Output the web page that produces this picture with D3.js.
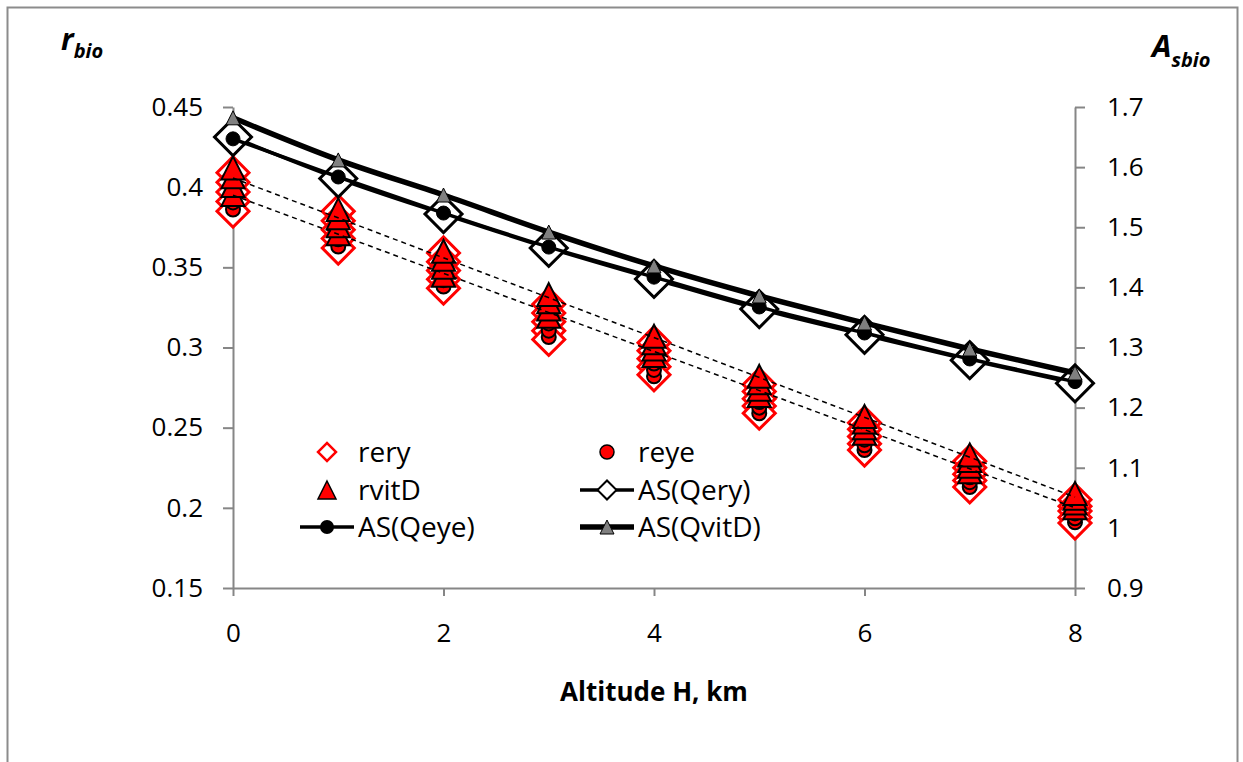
<!DOCTYPE html>
<html lang="en">
<head>
<meta charset="UTF-8">
<title>r_bio and A_sbio vs altitude</title>
<style>
  body { margin: 0; background: #fff; }
  text { font-family: "Open Sans", "Noto Sans", sans-serif; fill: #000; }
</style>
</head>
<body>
<svg width="1243" height="762"></svg>
<script src="https://d3js.org/d3.v7.min.js"></script>
<script>
// altitudes, km
let altitudes = [0, 1, 2, 3, 4, 5, 6, 7, 8];

// r_bio values, five cases per altitude (left axis)
let rery = [
    [0.409, 0.403, 0.397, 0.391, 0.385],
    [0.385, 0.379, 0.3735, 0.368, 0.362],
    [0.359, 0.3535, 0.348, 0.3425, 0.337],
    [0.327, 0.3215, 0.316, 0.3105, 0.305],
    [0.303, 0.298, 0.293, 0.288, 0.283],
    [0.277, 0.2725, 0.268, 0.2635, 0.259],
    [0.253, 0.249, 0.2445, 0.240, 0.236],
    [0.229, 0.225, 0.221, 0.217, 0.213],
    [0.205, 0.201, 0.198, 0.194, 0.1905]
];
let reye = [
    [0.405, 0.400, 0.395, 0.3905, 0.386],
    [0.381, 0.3765, 0.372, 0.3675, 0.363],
    [0.355, 0.351, 0.3465, 0.342, 0.338],
    [0.323, 0.319, 0.315, 0.3105, 0.3065],
    [0.298, 0.294, 0.290, 0.286, 0.282],
    [0.273, 0.2695, 0.266, 0.2625, 0.259],
    [0.249, 0.2455, 0.2425, 0.239, 0.236],
    [0.225, 0.222, 0.219, 0.216, 0.213],
    [0.202, 0.199, 0.1965, 0.1935, 0.191]
];
let rvitD = [
    [0.412, 0.4065, 0.401, 0.3955],
    [0.386, 0.381, 0.376, 0.371],
    [0.360, 0.355, 0.350, 0.345],
    [0.333, 0.3285, 0.324, 0.3195],
    [0.307, 0.303, 0.299, 0.295],
    [0.282, 0.278, 0.274, 0.270],
    [0.257, 0.2535, 0.250, 0.2465],
    [0.233, 0.2295, 0.226, 0.2225],
    [0.209, 0.206, 0.203, 0.200]
];

// dashed trend lines (values at H = 0 and H = 8)
let trendX = [0, 8];
let trendUpper = [0.4057, 0.2067];
let trendLower = [0.395, 0.200];

// A_sbio values (right axis)
let asQery = [1.650, 1.581, 1.522, 1.4655, 1.414, 1.364, 1.321, 1.279, 1.2404];
let asQeye = [1.647, 1.5836, 1.5236, 1.467, 1.417, 1.3674, 1.3241, 1.2809, 1.2432];
let asQvitD = [1.682, 1.612, 1.5536, 1.492, 1.4356, 1.3857, 1.3408, 1.2975, 1.2576];

let xTicks = [0, 2, 4, 6, 8];
let leftTicks = [0.15, 0.2, 0.25, 0.3, 0.35, 0.4, 0.45];
let rightTicks = [0.9, 1, 1.1, 1.2, 1.3, 1.4, 1.5, 1.6, 1.7];


let svg = d3.select("svg"),
    plot = { left: 233, right: 1075, top: 107, bottom: 588 },
    axisColor = "#868686",
    fontSize = 26,
    legendSize = 28;

let x = d3.scaleLinear().domain([0, 8]).range([plot.left, plot.right]);
let yL = d3.scaleLinear().domain([0.15, 0.45]).range([plot.bottom, plot.top]);
let yR = d3.scaleLinear().domain([0.9, 1.7]).range([plot.bottom, plot.top]);

// chart frame
svg.append("rect")
    .attr("x", 7.5).attr("y", 7.5)
    .attr("width", 1230).attr("height", 780)
    .attr("fill", "none")
    .attr("stroke", "#8c8c8c")
    .attr("stroke-width", 2);

// axes
let gx = svg.append("g")
    .attr("transform", "translate(0," + plot.bottom + ")")
    .call(d3.axisBottom(x).tickValues(xTicks).tickSize(8).tickPadding(28).tickSizeOuter(0));
let gl = svg.append("g")
    .attr("transform", "translate(" + plot.left + ",0)")
    .call(d3.axisLeft(yL).tickValues(leftTicks).tickSize(10).tickPadding(20).tickFormat(d3.format("~g")).tickSizeOuter(0));
let gr = svg.append("g")
    .attr("transform", "translate(" + plot.right + ",0)")
    .call(d3.axisRight(yR).tickValues(rightTicks).tickSize(10).tickPadding(22).tickFormat(d3.format("~g")).tickSizeOuter(0));

[gx, gl, gr].forEach(g => {
    g.attr("font-family", null).attr("font-size", null);
    g.selectAll(".domain").attr("stroke", axisColor).attr("stroke-width", 2);
    g.selectAll(".tick line").attr("stroke", axisColor).attr("stroke-width", 2);
    g.selectAll(".tick text").style("font-size", fontSize + "px").attr("fill", "#000");
});

// marker helpers: Excel-like shapes, size given as box width
let boxTriangle = {
    draw(context, size) {
        let h = Math.sqrt(size) / 2;
        context.moveTo(0, -h);
        context.lineTo(h, h);
        context.lineTo(-h, h);
        context.closePath();
    }
};
function diamond(w) { return d3.symbol().type(d3.symbolSquare).size(w * w / 2)(); }
function circle(d) { return d3.symbol().type(d3.symbolCircle).size(Math.PI * d * d / 4)(); }
function triangle(w) { return d3.symbol().type(boxTriangle).size(w * w)(); }

function flat(arr) {
    let out = [];
    arr.forEach((vals, i) => vals.forEach(v => out.push({ h: altitudes[i], v: v })));
    // lowest values drawn first
    return out.sort((a, b) => a.v - b.v);
}

// red scatter series
svg.append("g").selectAll("path")
    .data(flat(rery).reverse()).join("path")
    .attr("d", diamond(32))
    .attr("transform", d => "translate(" + x(d.h) + "," + yL(d.v) + ") rotate(45)")
    .attr("fill", "#fff").attr("stroke", "#ff0000").attr("stroke-width", 3);

svg.append("g").selectAll("path")
    .data(flat(reye)).join("path")
    .attr("d", circle(14))
    .attr("transform", d => "translate(" + x(d.h) + "," + yL(d.v) + ")")
    .attr("fill", "#ff0000").attr("stroke", "#000").attr("stroke-width", 2);

svg.append("g").selectAll("path")
    .data(flat(rvitD)).join("path")
    .attr("d", triangle(23))
    .attr("transform", d => "translate(" + x(d.h) + "," + yL(d.v) + ")")
    .attr("fill", "#ff0000").attr("stroke", "#000").attr("stroke-width", 2)
    .attr("stroke-linejoin", "miter");

// dashed trend lines
[trendUpper, trendLower].forEach(t => {
    svg.append("path")
        .datum(trendX.map((h, i) => [h, t[i]]))
        .attr("fill", "none")
        .attr("stroke", "#000")
        .attr("stroke-width", 1.5)
        .attr("stroke-dasharray", "5,4")
        .attr("d", d3.line().x(d => x(d[0])).y(d => yL(d[1])));
});

// A_sbio series
let asLine = d3.line().curve(d3.curveMonotoneX).x((d, i) => x(altitudes[i])).y(d => yR(d));

svg.append("path").datum(asQery)
    .attr("fill", "none").attr("stroke", "#000").attr("stroke-width", 3.5).attr("d", asLine);
svg.append("g").selectAll("path")
    .data(asQery).join("path")
    .attr("d", diamond(37))
    .attr("transform", (d, i) => "translate(" + x(altitudes[i]) + "," + yR(d) + ") rotate(45)")
    .attr("fill", "#fff").attr("stroke", "#000").attr("stroke-width", 3);

svg.append("path").datum(asQeye)
    .attr("fill", "none").attr("stroke", "#000").attr("stroke-width", 3.5).attr("d", asLine);
svg.append("g").selectAll("path")
    .data(asQeye).join("path")
    .attr("d", circle(14))
    .attr("transform", (d, i) => "translate(" + x(altitudes[i]) + "," + yR(d) + ")")
    .attr("fill", "#000").attr("stroke", "#000").attr("stroke-width", 1);

svg.append("path").datum(asQvitD)
    .attr("fill", "none").attr("stroke", "#000").attr("stroke-width", 5.5).attr("d", asLine);
svg.append("g").selectAll("path")
    .data(asQvitD).join("path")
    .attr("d", triangle(14))
    .attr("transform", (d, i) => "translate(" + x(altitudes[i]) + "," + yR(d) + ")")
    .attr("fill", "#808080").attr("stroke", "#000").attr("stroke-width", 1);

// legend
let legend = svg.append("g");
let legendItems = [
    { name: "rery", col: 0, row: 0, marker: "rdiamond" },
    { name: "reye", col: 1, row: 0, marker: "rcircle" },
    { name: "rvitD", col: 0, row: 1, marker: "rtriangle" },
    { name: "AS(Qery)", col: 1, row: 1, marker: "kdiamond", line: 3.5 },
    { name: "AS(Qeye)", col: 0, row: 2, marker: "kcircle", line: 3.5 },
    { name: "AS(QvitD)", col: 1, row: 2, marker: "gtriangle", line: 5.5 }
];
let colX = [327, 607], rowY = [452, 490, 527];

legendItems.forEach(it => {
    let cx = colX[it.col], cy = rowY[it.row];
    if (it.line) {
        legend.append("line")
            .attr("x1", cx - 27).attr("x2", cx + 27)
            .attr("y1", cy).attr("y2", cy)
            .attr("stroke", "#000").attr("stroke-width", it.line);
    }
    let m = legend.append("path");
    if (it.marker == "rdiamond") {
        m.attr("d", diamond(18)).attr("transform", "translate(" + cx + "," + cy + ") rotate(45)")
            .attr("fill", "#fff").attr("stroke", "#ff0000").attr("stroke-width", 2.5);
    } else if (it.marker == "rcircle") {
        m.attr("d", circle(14)).attr("transform", "translate(" + cx + "," + cy + ")")
            .attr("fill", "#ff0000").attr("stroke", "#000").attr("stroke-width", 1.5);
    } else if (it.marker == "rtriangle") {
        m.attr("d", triangle(18)).attr("transform", "translate(" + cx + "," + cy + ")")
            .attr("fill", "#ff0000").attr("stroke", "#000").attr("stroke-width", 1.5);
    } else if (it.marker == "kdiamond") {
        m.attr("d", diamond(19)).attr("transform", "translate(" + cx + "," + cy + ") rotate(45)")
            .attr("fill", "#fff").attr("stroke", "#000").attr("stroke-width", 2);
    } else if (it.marker == "kcircle") {
        m.attr("d", circle(14)).attr("transform", "translate(" + cx + "," + cy + ")")
            .attr("fill", "#000");
    } else {
        m.attr("d", triangle(14)).attr("transform", "translate(" + cx + "," + cy + ")")
            .attr("fill", "#808080").attr("stroke", "#000").attr("stroke-width", 1);
    }
    legend.append("text")
        .attr("x", cx + 31).attr("y", cy).attr("dy", "0.36em")
        .style("font-size", legendSize + "px")
        .text(it.name);
});

// axis titles
svg.append("text")
    .attr("x", 654).attr("y", 701)
    .attr("text-anchor", "middle")
    .style("font-size", "26px").style("font-weight", "bold")
    .text("Altitude H, km");

let tl = svg.append("text").attr("x", 61).attr("y", 50)
    .style("font-weight", "bold").style("font-style", "italic");
tl.append("tspan").style("font-size", "30px").text("r");
tl.append("tspan").style("font-size", "20px").attr("dy", 8).text("bio");

let tr = svg.append("text").attr("x", 1152).attr("y", 57)
    .style("font-weight", "bold").style("font-style", "italic");
tr.append("tspan").style("font-size", "31px").text("A");
tr.append("tspan").style("font-size", "20px").attr("dy", 10).text("sbio");
</script>
</body>
</html>
